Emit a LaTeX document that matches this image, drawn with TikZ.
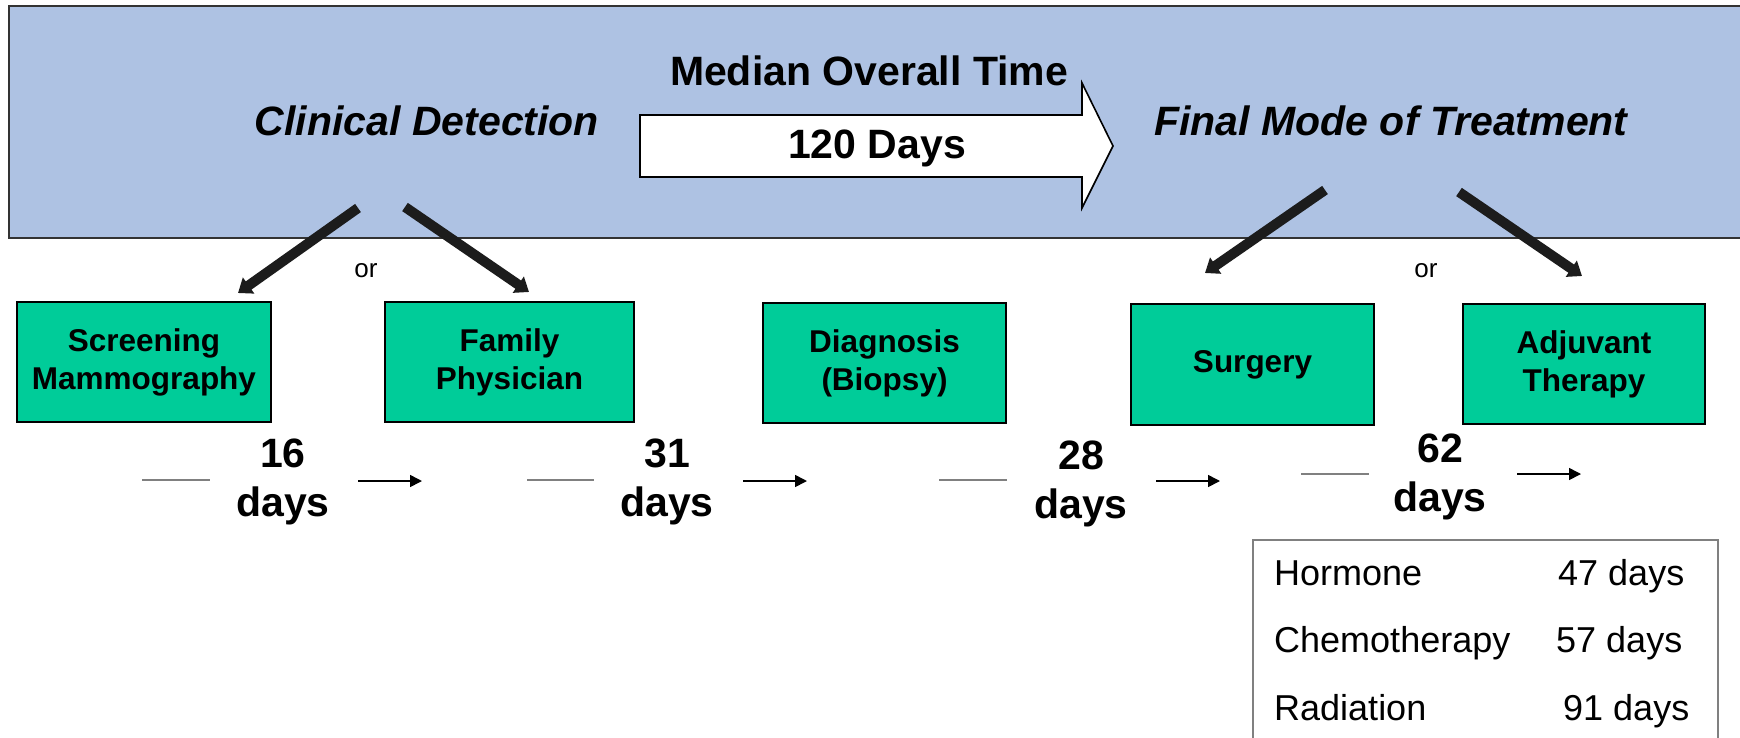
\documentclass[tikz,border=0pt]{standalone}
\usepackage{fontspec}
\setmainfont{Liberation Sans}
\usetikzlibrary{arrows.meta}
\definecolor{bannerblue}{RGB}{174,194,227}
\definecolor{boxgreen}{RGB}{0,204,153}
\definecolor{arrowdark}{RGB}{28,28,28}
\definecolor{linegray}{RGB}{128,128,128}
\tikzset{
  headtext/.style={font=\fontsize{41}{49}\selectfont\bfseries, inner sep=0pt, anchor=base},
  headital/.style={font=\fontsize{41}{49}\selectfont\bfseries\itshape, inner sep=0pt, anchor=base},
  greenbox/.style={draw=black, line width=1.8pt, fill=boxgreen, align=center,
    font=\fontsize{31.5}{38}\selectfont\bfseries, inner sep=0pt},
  daylabel/.style={font=\fontsize{41}{49}\selectfont\bfseries, align=center, inner sep=0pt},
  ortext/.style={font=\fontsize{26}{30}\selectfont, inner sep=0pt, anchor=base},
  tabtext/.style={font=\fontsize{36}{40}\selectfont, inner sep=0pt, anchor=base west},
  bigarrow/.style={draw=arrowdark, line width=10pt, line cap=butt,
    -{Triangle[width=19pt,length=13pt]}},
  thinline/.style={draw=linegray, line width=2pt},
  thinarrow/.style={draw=black, line width=1.6pt, -{Triangle[width=12pt,length=12pt]}}
}
\begin{document}
\begin{tikzpicture}[x=1pt,y=-1pt]
\useasboundingbox (0,0) rectangle (1740,737);

% banner
\draw[fill=bannerblue, draw=black!80, line width=2pt] (9,6) rectangle (1760,238);

% big white arrow
\draw[fill=white, draw=black, line width=1.6pt]
  (640,115) -- (1082,115) -- (1082,83) -- (1113,146) -- (1082,208) -- (1082,177) -- (640,177) -- cycle;

\node[headtext] (median) at (869,85) {Median Overall Time};
\node[headtext] (days120) at (877,158) {120 Days};
\node[headital] (clinical) at (427,135) {Clinical Detection};
\node[headital] (final) at (1391,135) {Final Mode of Treatment};

% green boxes
\node[greenbox, minimum width=254pt, minimum height=120pt] (screen) at (144,362) {Screening\\Mammography};
\node[greenbox, minimum width=249pt, minimum height=120pt] (family) at (509.5,362) {Family\\Physician};
\node[greenbox, minimum width=243pt, minimum height=120pt] (diag) at (884.5,363) {Diagnosis\\(Biopsy)};
\node[greenbox, minimum width=243pt, minimum height=121pt] (surgery) at (1252.5,364.5) {Surgery};
\node[greenbox, minimum width=242pt, minimum height=120pt] (adjuvant) at (1584,364) {Adjuvant\\Therapy};

% thick arrows
\coordinate (c1s) at (358,208); \coordinate (c1e) at (238,293);
\coordinate (c2s) at (405,207); \coordinate (c2e) at (529,292);
\coordinate (f1s) at (1325,190); \coordinate (f1e) at (1205,273);
\coordinate (f2s) at (1459,192); \coordinate (f2e) at (1582,276);
\draw[bigarrow] (c1s) -- (c1e);
\draw[bigarrow] (c2s) -- (c2e);
\draw[bigarrow] (f1s) -- (f1e);
\draw[bigarrow] (f2s) -- (f2e);

\node[ortext] (or1) at (366,277) {or};
\node[ortext] (or2) at (1426,277) {or};

% day labels
\node[daylabel] (d16) at (283,482) {16\\days};
\node[daylabel] (d31) at (667,482) {31\\days};
\node[daylabel] (d28) at (1081,484) {28\\days};
\node[daylabel] (d62) at (1440,477) {62\\days};

\coordinate (l1a) at (142,480); \coordinate (l1b) at (210,480);
\coordinate (a1a) at (358,481); \coordinate (a1b) at (422,481);
\coordinate (l2a) at (527,480); \coordinate (l2b) at (594,480);
\coordinate (a2a) at (743,481); \coordinate (a2b) at (807,481);
\coordinate (l3a) at (939,480); \coordinate (l3b) at (1007,480);
\coordinate (a3a) at (1156,481); \coordinate (a3b) at (1220,481);
\coordinate (l4a) at (1301,474); \coordinate (l4b) at (1369,474);
\coordinate (a4a) at (1517,474); \coordinate (a4b) at (1581,474);
\draw[thinline] (l1a) -- (l1b);
\draw[thinline] (l2a) -- (l2b);
\draw[thinline] (l3a) -- (l3b);
\draw[thinline] (l4a) -- (l4b);
\draw[thinarrow] (a1a) -- (a1b);
\draw[thinarrow] (a2a) -- (a2b);
\draw[thinarrow] (a3a) -- (a3b);
\draw[thinarrow] (a4a) -- (a4b);

% table
\draw[draw=linegray, line width=2pt] (1253,750) -- (1253,540) -- (1718,540) -- (1718,750);
\node[tabtext] (hormone) at (1274,585) {Hormone};
\node[tabtext] (chemo) at (1274,652) {Chemotherapy};
\node[tabtext] (radiation) at (1274,720) {Radiation};
\node[tabtext] (h47) at (1558,585) {47 days};
\node[tabtext] (c57) at (1556,652) {57 days};
\node[tabtext] (r91) at (1563,720) {91 days};
\end{tikzpicture}
\end{document}
